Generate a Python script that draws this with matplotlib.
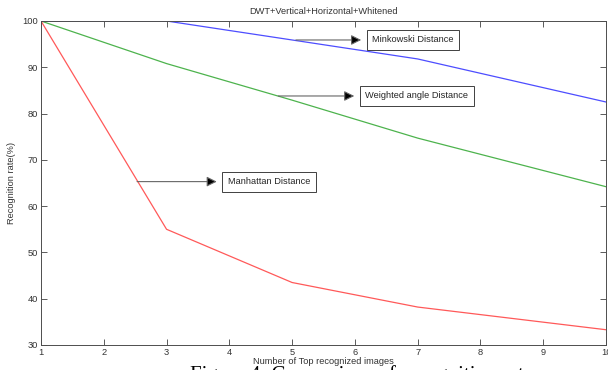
import matplotlib
matplotlib.use('Agg')
import matplotlib.pyplot as plt

# recognition rate (%) against number of top recognized images
x_top = [1, 3, 5, 7, 10]
minkowski = [100, 100, 95.9, 91.8, 82.5]
weighted_angle = [100, 90.8, 82.9, 74.7, 64.2]
manhattan = [100, 55.0, 43.5, 38.2, 33.3]

x_ticks = list(range(1, 11))
y_ticks = [30, 40, 50, 60, 70, 80, 90, 100]

plt.rcParams['font.family'] = ['Liberation Sans', 'DejaVu Sans']
fs = 6.7

fig = plt.figure(figsize=(6.08, 3.70), dpi=100)
ax = fig.add_axes([41 / 608, 25 / 370, 565 / 608, 324 / 370])

ax.plot(x_top, minkowski, color=(0.3, 0.3, 1.0), lw=0.9)
ax.plot(x_top, weighted_angle, color=(0.3, 0.7, 0.3), lw=0.9)
ax.plot(x_top, manhattan, color=(1.0, 0.35, 0.35), lw=0.9)

ax.set_xlim(1, 10)
ax.set_ylim(30, 100)
ax.set_xticks(x_ticks)
ax.set_yticks(y_ticks)
ax.tick_params(direction='in', length=4, width=0.6, labelsize=fs, pad=2,
               top=True, right=True, colors='0.25', labelcolor='0.2')
for s in ax.spines.values():
    s.set_linewidth(0.7)
    s.set_color('0.3')

ax.set_title('DWT+Vertical+Horizontal+Whitened', fontsize=fs, color='0.2', pad=5)
ax.set_xlabel('Number of Top recognized images', fontsize=fs, color='0.2', labelpad=0)
ax.set_ylabel('Recognition rate(%)', fontsize=fs, color='0.2', labelpad=5)

# text arrows: (start on curve, arrow tip, label)
notes = [
    ((5.06, 95.9), (6.10, 95.9), 'Minkowski Distance'),
    ((4.78, 83.8), (5.99, 83.8), 'Weighted angle Distance'),
    ((2.53, 65.3), (3.80, 65.3), 'Manhattan Distance'),
]
for start, tip, label in notes:
    ax.annotate('', xy=tip, xytext=start,
                arrowprops=dict(arrowstyle='-|>,head_length=0.5,head_width=0.25',
                                color='0.4', fc='black', lw=0.8,
                                mutation_scale=12, shrinkA=0, shrinkB=0))
    ax.text(tip[0] + 0.175, tip[1], label, fontsize=fs, color='0.15',
            ha='left', va='center',
            bbox=dict(boxstyle='square,pad=0.6', fc='white', ec='0.25', lw=0.7))

fig.text(190 / 608, 1 - 365.5 / 370, 'Figure 4: Comparison of recognition rate',
         fontsize=15, family='Liberation Serif', ha='left', va='top')

fig.savefig('out.png', dpi=100)
